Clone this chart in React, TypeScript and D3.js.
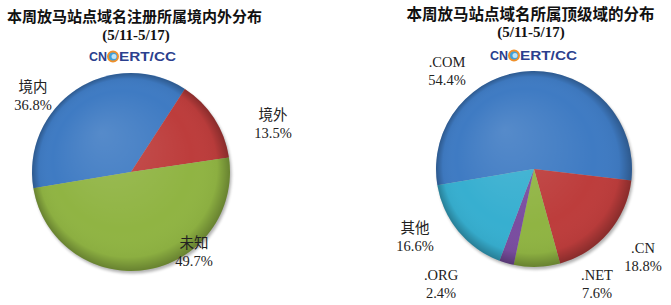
import React from "react";
import * as d3 from "d3";

const leftTitle = "本周放马站点域名注册所属境内外分布";
const rightTitle = "本周放马站点域名所属顶级域的分布";
const subTitle = "(5/11-5/17)";

const leftCategories = ["境内", "境外", "未知"];
const leftValues = [36.8, 13.5, 49.7];

const rightCategories = [".COM", ".CN", ".NET", ".ORG", "其他"];
const rightValues = [54.4, 18.8, 7.6, 2.4, 16.6];

const palette: Record<string, string> = {
  blue: "#3F7BC3",
  red: "#BD3D3C",
  green: "#90B443",
  purple: "#7A4DA0",
  cyan: "#37AFD0",
};
const leftColors = ["blue", "red", "green"];
const rightColors = ["blue", "red", "green", "purple", "cyan"];

const START = (-99.5 * Math.PI) / 180;

type LabelPos = { x: number; y: number };
const leftLabelPos: LabelPos[] = [
  { x: 33, y: 92 },
  { x: 273, y: 120 },
  { x: 194, y: 248 },
];
const rightLabelPos: LabelPos[] = [
  { x: 447, y: 67 },
  { x: 643, y: 253 },
  { x: 597, y: 280 },
  { x: 441, y: 280 },
  { x: 415, y: 233 },
];

function Pie(props: {
  id: string;
  cx: number;
  cy: number;
  r: number;
  cats: string[];
  vals: number[];
  colors: string[];
  labels: LabelPos[];
}) {
  const { id, cx, cy, r, cats, vals, colors, labels } = props;
  const arcs = d3
    .pie<number>()
    .sort(null)
    .value((d) => d)
    .startAngle(START)
    .endAngle(START + 2 * Math.PI)(vals);
  const arc = d3.arc<d3.PieArcDatum<number>>().innerRadius(0).outerRadius(r);
  return (
    <g>
      <defs>
        <radialGradient id={`${id}-hl`} gradientUnits="userSpaceOnUse" cx={cx} cy={cy} r={r} fx={cx - r * 0.3} fy={cy - r * 0.4}>
          <stop offset="0%" stopColor="#fff" stopOpacity={0.12} />
          <stop offset="70%" stopColor="#fff" stopOpacity={0} />
          <stop offset="90%" stopColor="#000" stopOpacity={0.03} />
          <stop offset="100%" stopColor="#000" stopOpacity={0.28} />
        </radialGradient>
        <filter id={`${id}-sh`} x="-10%" y="-10%" width="120%" height="120%">
          <feGaussianBlur stdDeviation={1.8} />
        </filter>
      </defs>
      <circle cx={cx + 1.5} cy={cy + 2.5} r={r} fill="#000" opacity={0.3} filter={`url(#${id}-sh)`} />
      <g transform={`translate(${cx},${cy})`}>
        {arcs.map((a, i) => (
          <path key={i} d={arc(a) || ""} fill={palette[colors[i]]} stroke="none" />
        ))}
      </g>
      <circle cx={cx} cy={cy} r={r} fill={`url(#${id}-hl)`} />
      {arcs.map((a, i) => (
        <text
          key={i}
          x={labels[i].x}
          y={labels[i].y}
          textAnchor="middle"
          fontFamily="'Liberation Serif', 'Noto Sans CJK SC', serif"
          fontSize={14.5}
          fill="#222"
        >
          <tspan x={labels[i].x}>{cats[i]}</tspan>
          <tspan x={labels[i].x} dy={17.5}>
            {vals[i].toFixed(1)}%
          </tspan>
        </text>
      ))}
    </g>
  );
}

function Logo(props: { x: number; y: number }) {
  const { x, y } = props;
  const font = "'Liberation Sans', Arial, sans-serif";
  return (
    <g>
      <text x={x} y={y} fontFamily={font} fontWeight="bold" fontSize={12.5} fill="#2B3F8E" textLength={18} lengthAdjust="spacingAndGlyphs">
        CN
      </text>
      <circle cx={x + 24} cy={y - 4.5} r={5} fill="#3FA0DA" stroke="#F0902A" strokeWidth={2} />
      <circle cx={x + 25} cy={y - 4.5} r={2.5} fill="#BFE3F5" />
      <text x={x + 30} y={y} fontFamily={font} fontWeight="bold" fontSize={12.5} fill="#2B3F8E" textLength={57} lengthAdjust="spacingAndGlyphs">
        ERT/CC
      </text>
    </g>
  );
}

export default function App() {
  const titleFont = "'Noto Sans CJK SC', sans-serif";
  const subFont = "'Liberation Serif', serif";
  return (
    <svg width={671} height={305} style={{ display: "block", position: "absolute", left: 0, top: 0, background: "#fff" }}>
      <rect width={671} height={305} fill="#fff" />
      <text x={134.5} y={22} textAnchor="middle" fontFamily={titleFont} fontWeight="bold" fontSize={15} fill="#111">
        {leftTitle}
      </text>
      <text x={136} y={40} textAnchor="middle" fontFamily={subFont} fontWeight="bold" fontSize={15} fill="#111">
        {subTitle}
      </text>
      <text x={530.5} y={20} textAnchor="middle" fontFamily={titleFont} fontWeight="bold" fontSize={15.5} fill="#111">
        {rightTitle}
      </text>
      <text x={531} y={37} textAnchor="middle" fontFamily={subFont} fontWeight="bold" fontSize={15} fill="#111">
        {subTitle}
      </text>
      <Pie id="l" cx={131} cy={172} r={99} cats={leftCategories} vals={leftValues} colors={leftColors} labels={leftLabelPos} />
      <Pie id="r" cx={534} cy={169} r={98} cats={rightCategories} vals={rightValues} colors={rightColors} labels={rightLabelPos} />
      <Logo x={89} y={61} />
      <Logo x={490} y={60} />
    </svg>
  );
}
